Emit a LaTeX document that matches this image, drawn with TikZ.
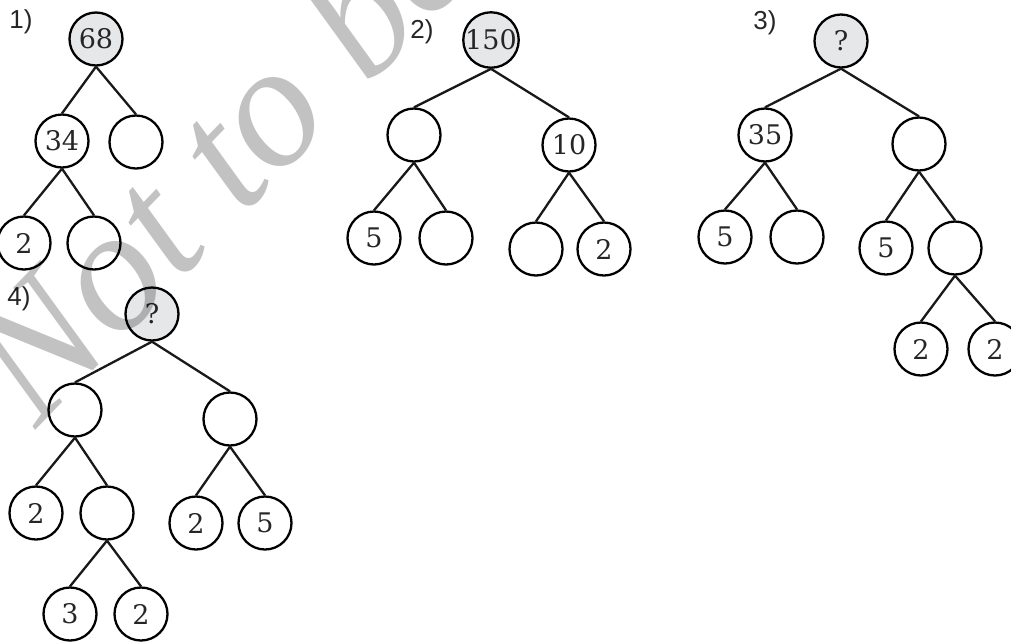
\documentclass[tikz,border=0pt]{standalone}
\usepackage{fontspec}
\newfontfamily\labfont{Liberation Sans}
\newfontfamily\numfont{DejaVu Serif}
\newfontfamily\wmfont{Liberation Serif}
\definecolor{rootfill}{HTML}{E6E7E8}
\definecolor{wmgray}{HTML}{C2C2C2}
\tikzset{
  nd/.style={circle, draw=black, line width=2.3pt, minimum size=53pt, inner sep=0pt,
    font=\numfont\fontsize{27}{27}\selectfont, text=black!85},
  rt/.style={nd, fill=rootfill},
  edge/.style={line width=2.3pt, draw=black!90},
  lab/.style={font=\labfont\fontsize{26}{26}\selectfont, text=black!85, inner sep=0pt}
}
\begin{document}
\begin{tikzpicture}[x=1pt,y=-1pt]
\useasboundingbox (0,0) rectangle (1011,641);
% labels
\node[lab] (l1) at (21,22) {1)};
\node[lab] (l2) at (422,32) {2)};
\node[lab] (l3) at (765,23) {3)};
\node[lab] (l4) at (19,299) {4)};
% tree 1
\node[rt] (a1) at (96,39) {68};
\node[nd] (a2) at (62,141) {34};
\node[nd] (a3) at (136,142) {};
\node[nd] (a4) at (24,243) {2};
\node[nd] (a5) at (94,243) {};
\draw[edge] (a1.south) -- (a2.north);
\draw[edge] (a1.south) -- (a3.north);
\draw[edge] (a2.south) -- (a4.north);
\draw[edge] (a2.south) -- (a5.north);
% tree 2
\node[rt] (b1) at (491,40) {150};
\node[nd] (b2) at (414,135) {};
\node[nd] (b3) at (569,145) {10};
\node[nd] (b4) at (374,238) {5};
\node[nd] (b5) at (446,238) {};
\node[nd] (b6) at (536,249) {};
\node[nd] (b7) at (604,249) {2};
\draw[edge] (b1.south) -- (b2.north);
\draw[edge] (b1.south) -- (b3.north);
\draw[edge] (b2.south) -- (b4.north);
\draw[edge] (b2.south) -- (b5.north);
\draw[edge] (b3.south) -- (b6.north);
\draw[edge] (b3.south) -- (b7.north);
% tree 3
\node[rt] (c1) at (841,41) {?};
\node[nd] (c2) at (765,135) {35};
\node[nd] (c3) at (919,144) {};
\node[nd] (c4) at (725,237) {5};
\node[nd] (c5) at (797,237) {};
\node[nd] (c6) at (886,248) {5};
\node[nd] (c7) at (955,248) {};
\node[nd] (c8) at (921,349) {2};
\node[nd] (c9) at (995,349) {2};
\draw[edge] (c1.south) -- (c2.north);
\draw[edge] (c1.south) -- (c3.north);
\draw[edge] (c2.south) -- (c4.north);
\draw[edge] (c2.south) -- (c5.north);
\draw[edge] (c3.south) -- (c6.north);
\draw[edge] (c3.south) -- (c7.north);
\draw[edge] (c7.south) -- (c8.north);
\draw[edge] (c7.south) -- (c9.north);
% tree 4
\node[rt] (d1) at (152,314) {?};
\node[nd] (d2) at (75,410) {};
\node[nd] (d3) at (230,419) {};
\node[nd] (d4) at (36,513) {2};
\node[nd] (d5) at (107,513) {};
\node[nd] (d6) at (196,523) {2};
\node[nd] (d7) at (265,523) {5};
\node[nd] (d8) at (70,614) {3};
\node[nd] (d9) at (141,614) {2};
\draw[edge] (d1.south) -- (d2.north);
\draw[edge] (d1.south) -- (d3.north);
\draw[edge] (d2.south) -- (d4.north);
\draw[edge] (d2.south) -- (d5.north);
\draw[edge] (d3.south) -- (d6.north);
\draw[edge] (d3.south) -- (d7.north);
\draw[edge] (d5.south) -- (d8.north);
\draw[edge] (d5.south) -- (d9.north);
% watermark
\begin{scope}[blend mode=multiply]
\node[rotate=46, anchor=base west, inner sep=0pt, text=wmgray,
  font=\wmfont\itshape\fontsize{175}{175}\selectfont] (wm) at (36,430) {Not to be};
\end{scope}
\end{tikzpicture}
\end{document}
